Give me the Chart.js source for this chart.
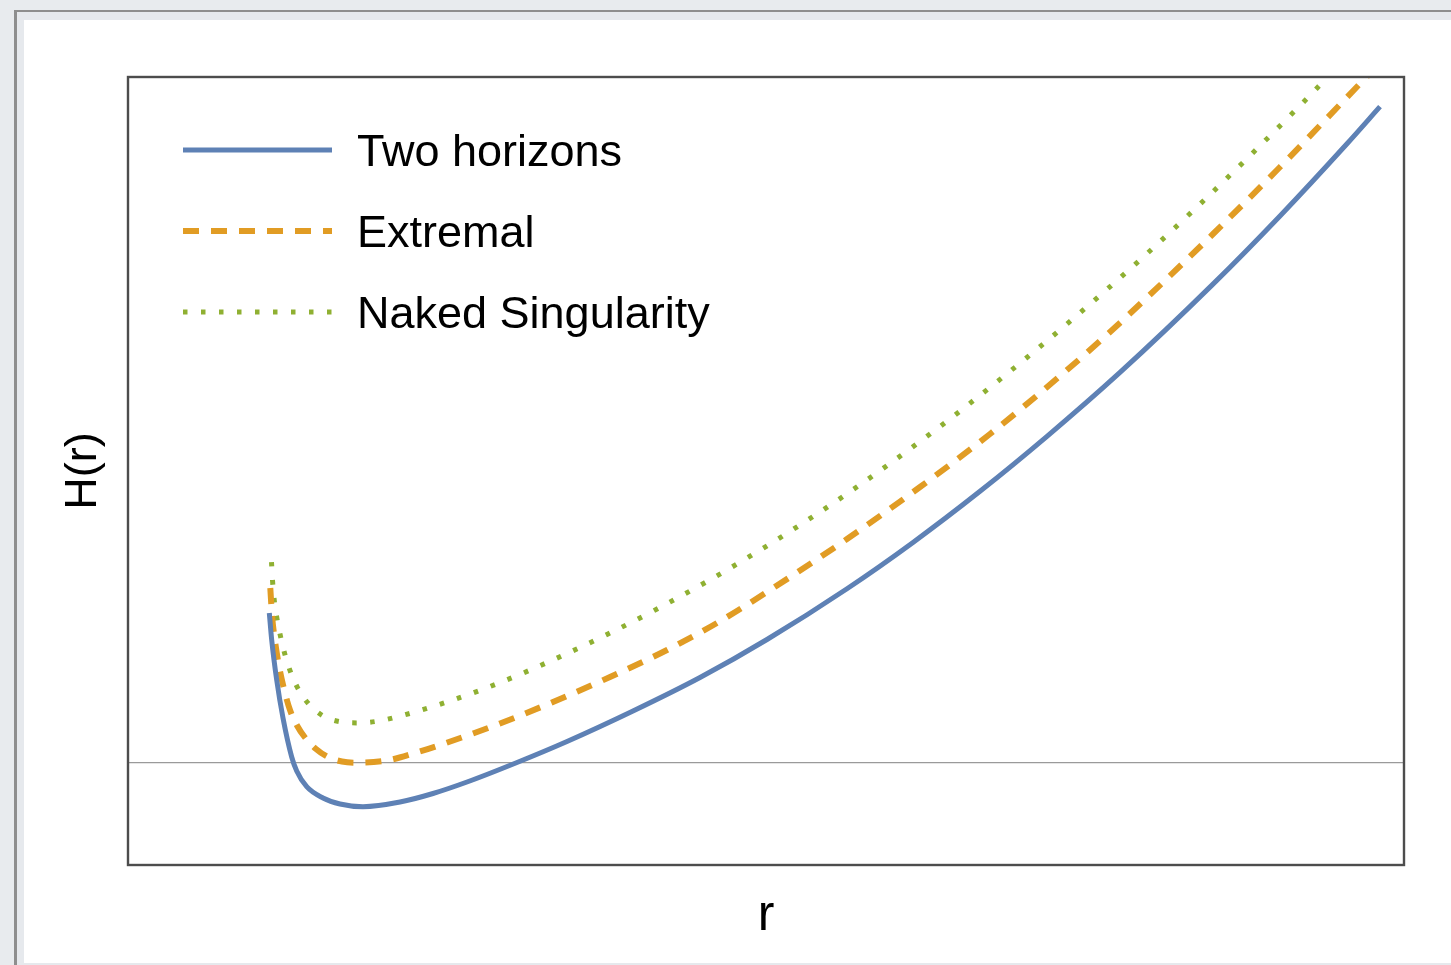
<!DOCTYPE html>
<html>
<head>
<meta charset="utf-8">
<title>H(r)</title>
<script src="https://cdn.jsdelivr.net/npm/chart.js@4.4.1/dist/chart.umd.min.js"></script>
<style>
  html, body { margin: 0; padding: 0; }
  body { width: 1451px; height: 965px; background: #e8ebee; position: relative; overflow: hidden; }
  .frame { position: absolute; left: 14px; top: 10px; right: 0; bottom: 0;
           border-left: 3px solid #8e8e8e; border-top: 2px solid #8e8e8e; background: #e6e9ed; }
  .card { position: absolute; left: 24px; top: 20px; right: 0; height: 943px; background: #fff; }
  #plot { position: absolute; left: 0; top: 0; }
</style>
</head>
<body>
<div class="frame"></div>
<div class="card"></div>
<canvas id="plot" width="1451" height="965"></canvas>
<script>
// sampled points for each branch of H(r)
const rTwo = [1.1074, 1.1262, 1.1654, 1.2147, 1.2829, 1.3221, 1.4005, 1.5282, 1.6614, 1.8417, 2.1317, 2.3903,
              2.6567, 3.0486, 3.4404, 3.9577, 4.4828, 5.0078, 5.6348, 6.1520, 6.6771, 7.2022, 7.7743, 8.5031,
              9.0282, 9.5533, 9.8119];
const hTwo = [1.4624, 1.1986, 0.8077, 0.4364, 0.0553, -0.0815, -0.2349, -0.3453, -0.4039, -0.4303, -0.3844, -0.3013,
              -0.1890, 0.0016, 0.2068, 0.5048, 0.8321, 1.2034, 1.6998, 2.1522, 2.6516, 3.1890, 3.8134, 4.6762,
              5.3426, 6.0481, 6.4106];

const rExt = [1.1152, 1.1285, 1.1520, 1.1834, 1.2226, 1.2696, 1.3245, 1.3871, 1.4734, 1.5674, 1.6771, 1.7947,
              2.0298, 2.2492, 2.4687, 2.9154, 3.3307, 3.7774, 4.2241, 4.6160, 5.0078, 5.6348, 6.2069, 6.7555,
              7.3041, 7.6959, 7.9859, 8.5031, 9.0282, 9.4984, 9.6787, 9.7492];
const hExt = [1.7067, 1.4428, 1.1888, 0.9445, 0.7198, 0.5146, 0.3631, 0.2458, 0.1335, 0.0553, 0.0113, 0.0000,
              0.0211, 0.0944, 0.1823, 0.3826, 0.5927, 0.8370, 1.1008, 1.3647, 1.6676, 2.1855, 2.6936, 3.2115,
              3.7782, 4.2081, 4.5453, 5.1657, 5.8204, 6.4311, 6.6656, 6.7585];

const rNaked = [1.1246, 1.1324, 1.1442, 1.1638, 1.1912, 1.2265, 1.2696, 1.3245, 1.4107, 1.5282, 1.6693, 1.8103,
                1.9592, 2.1082, 2.5235, 2.9389, 3.3307, 3.7539, 4.1458, 4.5376, 4.8981, 5.1646, 5.6583, 6.2618,
                6.8339, 7.4060, 7.9545, 8.3777, 8.7931, 9.1850, 9.3025, 9.4201];
const hNaked = [1.9607, 1.7848, 1.6090, 1.4331, 1.2572, 1.0725, 0.9005, 0.7432, 0.5820, 0.4569, 0.3983, 0.3885,
                0.4061, 0.4471, 0.6025, 0.7940, 1.0041, 1.2523, 1.5015, 1.7702, 2.0350, 2.2411, 2.6476, 3.1890,
                3.7450, 4.3371, 4.9390, 5.4295, 5.9318, 6.4204, 6.5709, 6.7243];

const seriesNames = ["Two horizons", "Extremal", "Naked Singularity"];
const seriesColors = ["#5e81b5", "#e19c24", "#8fb032"];
const seriesDash = [[], [16, 12], [4.5, 13.5]];
const seriesWidth = [5, 6, 5];
const xTitle = "r";
const yTitle = "H(r)";

const FONT = "'Liberation Sans', Arial, Helvetica, sans-serif";

function toPoints(xs, ys) {
    return xs.map(function(x, i) { return { x: x, y: ys[i] }; });
}

const curves = [toPoints(rTwo, hTwo), toPoints(rExt, hExt), toPoints(rNaked, hNaked)];

// frame, zero line, axis labels and legend
const decorations = {
    id: "decorations",
    beforeDatasetsDraw(chart) {
        const ctx = chart.ctx;
        const a = chart.chartArea;
        const y0 = chart.scales.y.getPixelForValue(0);
        ctx.save();
        ctx.strokeStyle = "#9a9a9a";
        ctx.lineWidth = 1.2;
        ctx.beginPath();
        ctx.moveTo(a.left, y0);
        ctx.lineTo(a.right, y0);
        ctx.stroke();
        ctx.restore();
    },
    afterDraw(chart) {
        const ctx = chart.ctx;
        const a = chart.chartArea;
        ctx.save();

        ctx.strokeStyle = "#4d4d4d";
        ctx.lineWidth = 2.4;
        ctx.strokeRect(a.left, a.top, a.right - a.left, a.bottom - a.top);

        ctx.fillStyle = "#000";
        ctx.font = "50px " + FONT;
        ctx.textAlign = "center";
        ctx.textBaseline = "alphabetic";
        ctx.fillText(xTitle, (a.left + a.right) / 2, 930);

        ctx.save();
        ctx.translate(96, (a.top + a.bottom) / 2);
        ctx.rotate(-Math.PI / 2);
        ctx.font = "45px " + FONT;
        ctx.fillText(yTitle, 0, 0);
        ctx.restore();

        // legend
        ctx.font = "45px " + FONT;
        ctx.textAlign = "left";
        chart.data.datasets.forEach(function(ds, i) {
            const y = 150 + i * 81;
            ctx.strokeStyle = ds.borderColor;
            ctx.lineWidth = ds.borderWidth;
            ctx.setLineDash(ds.borderDash);
            ctx.beginPath();
            ctx.moveTo(183, y);
            ctx.lineTo(332, y);
            ctx.stroke();
            ctx.setLineDash([]);
            ctx.fillStyle = "#000";
            ctx.fillText(ds.label, 357, y + 16);
        });
        ctx.restore();
    }
};

new Chart(document.getElementById("plot"), {
    type: "line",
    data: {
        datasets: curves.map(function(pts, i) {
            return {
                label: seriesNames[i],
                data: pts,
                borderColor: seriesColors[i],
                borderWidth: seriesWidth[i],
                borderDash: seriesDash[i],
                borderCapStyle: "butt",
                cubicInterpolationMode: "monotone",
                pointRadius: 0,
                fill: false,
                clip: 0
            };
        })
    },
    options: {
        responsive: false,
        animation: false,
        layout: { padding: { left: 128, right: 47, top: 77, bottom: 100 } },
        plugins: { legend: { display: false }, tooltip: { enabled: false } },
        scales: {
            x: { type: "linear", min: 0, max: 10, display: false },
            y: { type: "linear", min: -1, max: 6.7, display: false }
        }
    },
    plugins: [decorations]
});
</script>
</body>
</html>
